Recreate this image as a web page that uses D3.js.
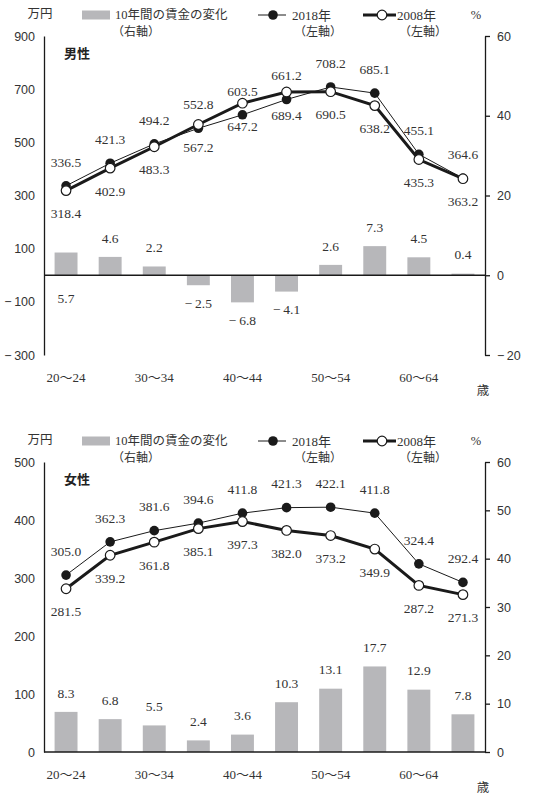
<!DOCTYPE html>
<html>
<head>
<meta charset="utf-8">
<script src="https://cdn.jsdelivr.net/npm/d3@7"></script>
<style>
  body { margin: 0; background: #fff; }
  svg { display: block; font-family: "Liberation Serif", "Noto Sans CJK JP", serif; }
</style>
</head>
<body>
<svg id="chart"></svg>
<script>
// age groups (only every other one gets a label)
const ageGroups = ["20～24", "25～29", "30～34", "35～39", "40～44", "45～49", "50～54", "55～59", "60～64", "65～69"];
const ageLabelsShown = ["20～24", "30～34", "40～44", "50～54", "60～64"];

// 男性 (万円 / %)
const maleWage2018 = [336.5, 421.3, 494.2, 552.8, 603.5, 661.2, 708.2, 685.1, 455.1, 364.6];
const maleWage2008 = [318.4, 402.9, 483.3, 567.2, 647.2, 689.4, 690.5, 638.2, 435.3, 363.2];
const maleChange = [5.7, 4.6, 2.2, -2.5, -6.8, -4.1, 2.6, 7.3, 4.5, 0.4];
const maleLeftTicks = [-300, -100, 100, 300, 500, 700, 900];
const maleRightTicks = [-20, 0, 20, 40, 60];

// 女性
const femaleWage2018 = [305.0, 362.3, 381.6, 394.6, 411.8, 421.3, 422.1, 411.8, 324.4, 292.4];
const femaleWage2008 = [281.5, 339.2, 361.8, 385.1, 397.3, 382.0, 373.2, 349.9, 287.2, 271.3];
const femaleChange = [8.3, 6.8, 5.5, 2.4, 3.6, 10.3, 13.1, 17.7, 12.9, 7.8];
const femaleLeftTicks = [0, 100, 200, 300, 400, 500];
const femaleRightTicks = [0, 10, 20, 30, 40, 50, 60];

const width = 540, height = 798;
const ink = "#1a1a1a", textCol = "#333", barCol = "#b7b7ba";

const svg = d3.select("#chart").attr("width", width).attr("height", height);

const minus = v => (v < 0 ? "\u2212\u2009" : "");
const fmtInt = v => minus(v) + Math.abs(v);
const fmt1 = v => minus(v) + d3.format(".1f")(Math.abs(v));

function drawPanel(o) {
  const g = svg.append("g");
  const left = 44, right = 485;

  const x = d3.scaleBand()
    .domain(ageGroups)
    .range([left, right])
    .paddingInner(0.48)
    .paddingOuter(0.24);
  const cx = d => x(d) + x.bandwidth() / 2;

  const yL = d3.scaleLinear().domain(o.leftDomain).range([o.bottom, o.top]);
  const yR = d3.scaleLinear().domain(o.rightDomain).range([o.bottom, o.top]);

  // left axis: line only, no tick marks
  const ax = g.append("g")
    .attr("transform", `translate(${left},0)`)
    .call(d3.axisLeft(yL).tickValues(o.leftTicks).tickSize(0).tickSizeOuter(0).tickPadding(9).tickFormat(fmtInt));
  ax.select(".domain").attr("stroke", ink).attr("stroke-width", 1.3);
  ax.selectAll("text").attr("fill", textCol).attr("font-size", 12.5);

  // right axis with outward ticks
  const ar = g.append("g")
    .attr("transform", `translate(${right},0)`)
    .call(d3.axisRight(yR).tickValues(o.rightTicks).tickSize(5).tickSizeOuter(0).tickPadding(7).tickFormat(fmtInt));
  ar.select(".domain").attr("stroke", ink).attr("stroke-width", 1.3);
  ar.selectAll("line").attr("stroke", ink).attr("stroke-width", 1.3);
  ar.selectAll("text").attr("fill", textCol).attr("font-size", 12.5);

  // bars (right axis)
  g.selectAll("rect.bar").data(o.change).enter().append("rect")
    .attr("class", "bar")
    .attr("x", (d, i) => x(ageGroups[i]))
    .attr("width", x.bandwidth())
    .attr("y", d => yR(Math.max(0, d)))
    .attr("height", d => Math.max(0.8, Math.abs(yR(d) - yR(0))))
    .attr("fill", barCol);

  // zero baseline
  g.append("line")
    .attr("x1", left).attr("x2", right)
    .attr("y1", yR(0)).attr("y2", yR(0))
    .attr("stroke", ink).attr("stroke-width", 1.3);

  // bar value labels
  g.selectAll("text.barlab").data(o.change).enter().append("text")
    .attr("class", "barlab")
    .attr("x", (d, i) => cx(ageGroups[i]))
    .attr("y", (d, i) => {
      if (o.barLabelBelow.includes(i)) return yR(0) + 23;
      return d >= 0 ? yR(d) - 19 : yR(d) + 18;
    })
    .attr("dy", "0.35em")
    .attr("text-anchor", "middle")
    .attr("font-size", 13.5)
    .attr("fill", textCol)
    .text(fmt1);

  const line = d3.line().x((d, i) => cx(ageGroups[i])).y(d => yL(d));

  // 2018: thin line, filled dots
  g.append("path").datum(o.w2018)
    .attr("d", line).attr("fill", "none").attr("stroke", ink).attr("stroke-width", 1);
  g.selectAll("circle.c18").data(o.w2018).enter().append("circle")
    .attr("class", "c18")
    .attr("cx", (d, i) => cx(ageGroups[i])).attr("cy", d => yL(d))
    .attr("r", 4.8).attr("fill", ink);

  // 2008: thick line, open dots
  g.append("path").datum(o.w2008)
    .attr("d", line).attr("fill", "none").attr("stroke", ink).attr("stroke-width", 3);
  g.selectAll("circle.c08").data(o.w2008).enter().append("circle")
    .attr("class", "c08")
    .attr("cx", (d, i) => cx(ageGroups[i])).attr("cy", d => yL(d))
    .attr("r", 4.8).attr("fill", "#fff").attr("stroke", ink).attr("stroke-width", 1.2);

  // wage labels: 2018 above its point, 2008 below its point
  g.selectAll("text.l18").data(o.w2018).enter().append("text")
    .attr("x", (d, i) => cx(ageGroups[i])).attr("y", d => yL(d) - 24)
    .attr("dy", "0.35em").attr("text-anchor", "middle")
    .attr("font-size", 13.5).attr("fill", textCol)
    .text(d => d.toFixed(1));
  g.selectAll("text.l08").data(o.w2008).enter().append("text")
    .attr("x", (d, i) => cx(ageGroups[i])).attr("y", d => yL(d) + 23)
    .attr("dy", "0.35em").attr("text-anchor", "middle")
    .attr("font-size", 13.5).attr("fill", textCol)
    .text(d => d.toFixed(1));

  // age labels
  g.selectAll("text.age").data(ageLabelsShown).enter().append("text")
    .attr("x", d => cx(d)).attr("y", o.bottom + 22)
    .attr("dy", "0.35em").attr("text-anchor", "middle")
    .attr("font-size", 13).attr("fill", textCol)
    .text(d => d);
  g.append("text")
    .attr("x", 483).attr("y", o.bottom + 36).attr("dy", "0.35em")
    .attr("text-anchor", "middle").attr("font-size", 12.5).attr("fill", textCol)
    .text("歳");

  // panel title
  g.append("text")
    .attr("x", 64).attr("y", o.top + 17).attr("dy", "0.35em")
    .attr("font-size", 13).attr("font-weight", "bold").attr("fill", "#222")
    .attr("font-family", "Noto Sans CJK JP")
    .text(o.title);

  // legend / units
  const ly = o.top - 21, ly2 = o.top - 4;
  g.append("text").attr("x", 40).attr("y", ly - 1).attr("dy", "0.35em")
    .attr("text-anchor", "middle").attr("font-size", 12.5).attr("fill", textCol).text("万円");
  g.append("text").attr("x", 476).attr("y", ly).attr("dy", "0.35em")
    .attr("text-anchor", "middle").attr("font-size", 12.5).attr("fill", textCol).text("%");

  g.append("rect").attr("x", 82).attr("y", ly - 4.5).attr("width", 28).attr("height", 9).attr("fill", barCol);
  g.append("text").attr("x", 115).attr("y", ly).attr("dy", "0.35em")
    .attr("font-size", 12.5).attr("fill", textCol).text("10年間の賃金の変化");
  g.append("text").attr("x", 112).attr("y", ly2).attr("dy", "0.35em")
    .attr("font-size", 12).attr("fill", textCol).text("（右軸）");

  g.append("line").attr("x1", 258).attr("x2", 286).attr("y1", ly).attr("y2", ly)
    .attr("stroke", ink).attr("stroke-width", 1);
  g.append("circle").attr("cx", 273).attr("cy", ly).attr("r", 4.8).attr("fill", ink);
  g.append("text").attr("x", 292).attr("y", ly).attr("dy", "0.35em")
    .attr("font-size", 13).attr("fill", textCol).text("2018年");
  g.append("text").attr("x", 294).attr("y", ly2).attr("dy", "0.35em")
    .attr("font-size", 12).attr("fill", textCol).text("（左軸）");

  g.append("line").attr("x1", 363).attr("x2", 396).attr("y1", ly).attr("y2", ly)
    .attr("stroke", ink).attr("stroke-width", 3);
  g.append("circle").attr("cx", 382).attr("cy", ly).attr("r", 4.8)
    .attr("fill", "#fff").attr("stroke", ink).attr("stroke-width", 1.2);
  g.append("text").attr("x", 397).attr("y", ly).attr("dy", "0.35em")
    .attr("font-size", 13).attr("fill", textCol).text("2008年");
  g.append("text").attr("x", 399).attr("y", ly2).attr("dy", "0.35em")
    .attr("font-size", 12).attr("fill", textCol).text("（左軸）");
}

drawPanel({
  title: "男性", top: 36, bottom: 355,
  leftDomain: [-300, 900], rightDomain: [-20, 60],
  leftTicks: maleLeftTicks, rightTicks: maleRightTicks,
  w2018: maleWage2018, w2008: maleWage2008, change: maleChange,
  barLabelBelow: [0]
});

drawPanel({
  title: "女性", top: 462, bottom: 752,
  leftDomain: [0, 500], rightDomain: [0, 60],
  leftTicks: femaleLeftTicks, rightTicks: femaleRightTicks,
  w2018: femaleWage2018, w2008: femaleWage2008, change: femaleChange,
  barLabelBelow: []
});
</script>
</body>
</html>
